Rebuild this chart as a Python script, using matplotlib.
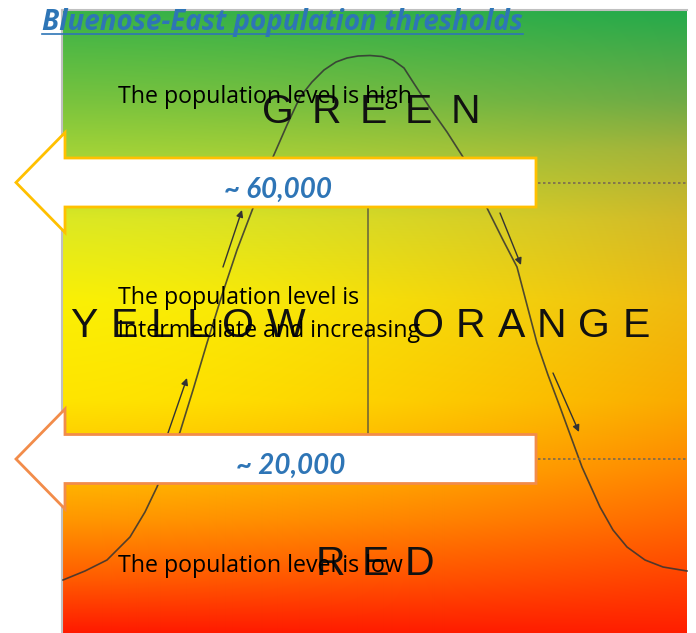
import numpy as np
import matplotlib.pyplot as plt
from matplotlib.patches import Polygon

# --- content ---
title = 'Bluenose-East population thresholds'
zone_names = ['GREEN', 'YELLOW', 'ORANGE', 'RED']
zone_x = [262, 70, 412, 316]          # left edge of each zone word
zone_y = [123, 337, 337, 575]         # baseline
zone_track = [7, 2, 1, 5]             # extra letter spacing, px
notes = ['The population level is high',
         'The population level is\nintermediate and increasing',
         'The population level is low']
notes_y = [103, 304, 572]             # baseline of first line
threshold_labels = ['~ 60,000', '~ 20,000']
threshold_y = [182.5, 459]
threshold_label_x = [278, 291]
threshold_colors = ['#FFC000', '#F28C4A']

# bell curve (pixel coords)
curve_x = [63, 85, 107, 130, 145, 157, 168, 180, 193, 207, 222, 237, 253, 265, 273,
           287, 300, 312, 324, 336, 347, 358, 370, 382, 393, 404, 413, 430, 447, 463,
           488, 503, 517, 527, 537, 548, 560, 571, 582, 600, 613, 627, 645, 663, 687]
curve_y = [580, 571, 560, 537, 512, 487, 460, 432, 390, 343, 295, 250, 208, 180, 157,
           125, 97, 82, 70, 62, 58, 56, 55.5, 56.5, 60, 68, 82, 108, 132, 157,
           210, 240, 267, 305, 343, 375, 407, 437, 467, 507, 530, 547, 560, 567, 571]

# background gradient stops (y, rgb) for left and right edges
stop_y = [10, 100, 150, 220, 300, 400, 470, 520, 580, 633]
left_rgb = [(55, 178, 72), (120, 195, 62), (160, 210, 55), (220, 232, 35), (250, 240, 5),
            (255, 228, 0), (255, 190, 0), (255, 150, 0), (255, 90, 0), (255, 25, 0)]
right_rgb = [(35, 170, 75), (110, 170, 70), (165, 178, 58), (210, 184, 40), (238, 186, 18),
             (250, 170, 0), (255, 135, 0), (255, 105, 0), (255, 65, 0), (255, 30, 0)]

W, H = 696, 633
X0, X1, Y0 = 62, 687, 10

fig = plt.figure(figsize=(W / 100, H / 100), dpi=100)
ax = fig.add_axes([0, 0, 1, 1])
ax.set_xlim(0, W)
ax.set_ylim(H, 0)
ax.axis('off')
renderer = fig.canvas.get_renderer()
inv = ax.transData.inverted()

# gradient background
ys = np.arange(Y0, H) + 0.5
xs = np.linspace(0, 1, X1 - X0)
L = np.stack([np.interp(ys, stop_y, [c[i] for c in left_rgb]) for i in range(3)], axis=1)
R = np.stack([np.interp(ys, stop_y, [c[i] for c in right_rgb]) for i in range(3)], axis=1)
t = xs ** 1.6
img = L[:, None, :] * (1 - t[None, :, None]) + R[:, None, :] * t[None, :, None]
ax.imshow(img / 255, extent=(X0, X1, H, Y0), origin='upper', aspect='auto', zorder=0)
ax.plot([X0, X0], [Y0, H], color='#c0c0c0', lw=1.5, zorder=1)
ax.plot([X0, X1], [Y0, Y0], color='#c0c0c0', lw=1.5, zorder=1)

# bell curve, centre line and direction arrows
ax.plot(curve_x, curve_y, color='#333333', lw=1.2, alpha=0.85, zorder=2)
ax.plot([368, 368], [208, 433], color='#444444', lw=1.1, alpha=0.8, zorder=2)
for (x1, y1, x2, y2) in [(223, 267, 242, 210), (168, 433, 187, 378),
                         (500, 213, 521, 265), (553, 373, 579, 432)]:
    ax.annotate('', xy=(x2, y2), xytext=(x1, y1),
                arrowprops=dict(arrowstyle='-|>', color='#333333', lw=1.0,
                                mutation_scale=10, shrinkA=0, shrinkB=0), zorder=2)

# zone words, letter by letter with tracking
for name, x, y, tr in zip(zone_names, zone_x, zone_y, zone_track):
    cx = x
    for ch in name:
        tx = ax.text(cx, y, ch, fontsize=29.5, family='Liberation Sans',
                     color='#111111', ha='left', va='baseline', zorder=3)
        bb = tx.get_window_extent(renderer).transformed(inv)
        cx = bb.x1 + 11 + tr

# notes
for txt, y in zip(notes, notes_y):
    for k, line in enumerate(txt.split('\n')):
        ax.text(118, y + 33 * k, line, fontsize=16.7, family='Open Sans', color='black',
                ha='left', va='baseline', zorder=4)

# threshold arrows
for lab, y, lx, col in zip(threshold_labels, threshold_y, threshold_label_x, threshold_colors):
    pts = [(16, y), (65, y - 50), (65, y - 24.5), (536, y - 24.5),
           (536, y + 24.5), (65, y + 24.5), (65, y + 50)]
    ax.add_patch(Polygon(pts, closed=True, facecolor='white', edgecolor=col,
                         lw=2, zorder=5))
    ax.plot([538, X1], [y, y], color='#7a6a50', lw=1.2, ls=(0, (1.5, 1.5)), zorder=2)
    ax.text(lx, y + 15, lab, fontsize=20, family='Lato', weight='bold', style='italic',
            color='#2E75B6', ha='center', va='baseline', zorder=6)

# title with underline
tt = ax.text(42, 30, title, fontsize=20, family='Open Sans', weight='bold', style='italic',
             color='#2E75B6', ha='left', va='baseline', zorder=7)
bb = tt.get_window_extent(renderer).transformed(inv)
ax.plot([bb.x0, bb.x1], [34, 34], color='#2E75B6', lw=1.2, zorder=7)

fig.savefig('out.png', dpi=100)
